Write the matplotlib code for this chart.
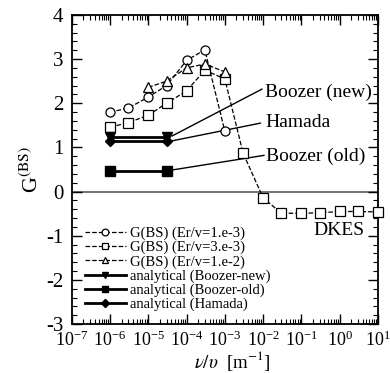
import matplotlib
matplotlib.use('Agg')
import matplotlib.pyplot as plt
from matplotlib.ticker import LogLocator, MultipleLocator, NullFormatter

plt.rcParams['font.family'] = ['Liberation Serif', 'DejaVu Serif']
plt.rcParams['mathtext.fontset'] = 'stix'
plt.rcParams['axes.unicode_minus'] = False

# DKES results for three Er/v values
nu_a = [1e-6, 3e-6, 1e-5, 3e-5, 1e-4, 3e-4, 1e-3]
g_a = [1.80, 1.89, 2.14, 2.40, 2.97, 3.21, 1.37]

nu_b = [1e-6, 3e-6, 1e-5, 3e-5, 1e-4, 3e-4, 1e-3, 3e-3, 1e-2, 3e-2, 1e-1, 3e-1, 1, 3, 10]
g_b = [1.46, 1.56, 1.73, 2.00, 2.28, 2.75, 2.55, 0.87, -0.14, -0.49, -0.49, -0.48, -0.45, -0.45, -0.46]

nu_c = [1e-5, 3e-5, 1e-4, 3e-4, 1e-3]
g_c = [2.36, 2.50, 2.80, 2.89, 2.71]

# analytical values
nu_an = [1e-6, 3e-5]
g_boozer_new = [1.24, 1.24]
g_boozer_old = [0.475, 0.475]
g_hamada = [1.14, 1.14]

fig = plt.figure(figsize=(3.9, 3.73), dpi=100)
ax = fig.add_axes([0.184, 0.131, 0.785, 0.829])

ax.axhline(0, color='#777777', lw=1.5, zorder=1)

ms = 6.5
kw_open = dict(color='black', lw=0.9, ms=ms, mfc='white', mew=0.9, zorder=3, clip_on=False)
ax.plot(nu_a, g_a, '--o', label='G(BS) (Er/v=1.e-3)', **kw_open)
ax.plot(nu_b, g_b, '--s', label='G(BS) (Er/v=3.e-3)', **kw_open)
ax.plot(nu_c, g_c, '--^', label='G(BS) (Er/v=1.e-2)', **kw_open)
ax.plot(nu_an, g_boozer_new, '-v', color='black', lw=2, ms=ms, label='analytical (Boozer-new)', zorder=4)
ax.plot(nu_an, g_boozer_old, '-s', color='black', lw=2, ms=ms, label='analytical (Boozer-old)', zorder=4)
ax.plot(nu_an, g_hamada, '-D', color='black', lw=2, ms=5.5, label='analytical (Hamada)', zorder=4)

# annotation lines
ax.plot([4.2e-5, 9.3e-3], [1.26, 2.32], color='black', lw=1)
ax.plot([4.2e-5, 8.5e-3], [1.15, 1.55], color='black', lw=1)
ax.plot([4.2e-5, 1.05e-2], [0.49, 0.82], color='black', lw=1)
ax.text(1.15e-2, 2.24, 'Boozer (new)', fontsize=14, va='center')
ax.text(1.15e-2, 1.56, 'Hamada', fontsize=14, va='center')
ax.text(1.2e-2, 0.79, 'Boozer (old)', fontsize=14, va='center')
ax.text(4.6, -0.87, 'DKES', fontsize=14, va='center', ha='right')

ax.set_xscale('log')
ax.set_xlim(1e-7, 10)
ax.set_ylim(-3, 4)
ax.xaxis.set_major_locator(LogLocator(base=10, numticks=20))
ax.xaxis.set_minor_locator(LogLocator(base=10, subs=range(2, 10), numticks=20))
ax.xaxis.set_minor_formatter(NullFormatter())
ax.yaxis.set_major_locator(MultipleLocator(1))
ax.yaxis.set_minor_locator(MultipleLocator(0.2))
ax.tick_params(which='both', direction='in', top=True, right=True)
ax.tick_params(axis='y', labelsize=15, pad=6)
ax.tick_params(axis='x', labelsize=13, pad=5)
ax.tick_params(which='major', length=7, width=1)
ax.tick_params(which='minor', length=3.5, width=0.8)
for sp in ax.spines.values():
    sp.set_linewidth(1.3)

ax.set_xlabel(r'$\nu/\upsilon$  [m$^{-1}$]', fontsize=13.5, va='top')
ax.xaxis.set_label_coords(0.525, -0.08)
ax.set_ylabel(r'G$^{\rm (BS)}$', fontsize=16, labelpad=2)

ax.legend(loc='upper left', frameon=False, fontsize=10.5, handlelength=2.8,
          handletextpad=0.3, labelspacing=0.05, borderaxespad=0, borderpad=0,
          markerscale=0.75, bbox_to_anchor=(0.043, 0.315))

fig.savefig('out.png', dpi=100)
